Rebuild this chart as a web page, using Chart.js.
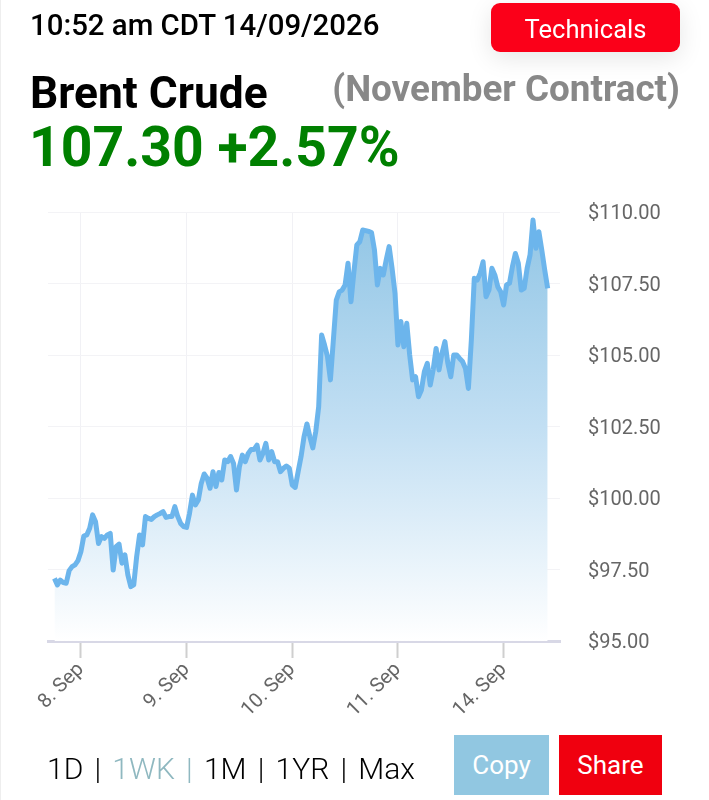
<!DOCTYPE html>
<html>
<head>
<meta charset="utf-8">
<title>Brent Crude</title>
<script src="https://cdn.jsdelivr.net/npm/chart.js@4/dist/chart.umd.js"></script>
<style>
    html, body { margin: 0; padding: 0; background: #fff; font-family: Roboto, sans-serif; }
    #page { position: relative; width: 709px; height: 800px; overflow: hidden; border-left: 1px solid #eee; box-sizing: border-box; }
    #page > div { position: absolute; white-space: nowrap; }
    canvas { position: absolute; left: -1px; top: 0; }
    .time { left: 29px; top: 8px; font-size: 29.4px; font-weight: 500; color: #000; }
    .btn-tech { left: 490px; top: 3px; width: 189px; height: 49px; line-height: 52px; border-radius: 9px; background: #fb0019; color: #fff; font-size: 25.5px; text-align: center; box-shadow: 0 6px 24px rgba(0,0,0,0.10); }
    .name { left: 29px; top: 67px; font-size: 44.3px; font-weight: 700; color: #000; }
    .contract { right: 29px; top: 67px; font-size: 36.8px; font-weight: 700; color: #888; }
    .price { left: 28px; top: 115px; font-size: 55.3px; font-weight: 700; color: #008000; }
    .range { left: 46px; top: 751px; font-size: 30px; font-weight: 300; color: #000; word-spacing: 3.9px; }
    .range span { color: #8fb8c0; }
    .btn { top: 735px; height: 60px; line-height: 60px; color: #fff; font-size: 26px; text-align: center; }
    .copy { left: 453px; width: 95px; background: #91c7e1; }
    .share { left: 558px; width: 103px; background: #f0000f; }
</style>
</head>
<body>
<div id="page">
    <canvas id="brentChart" width="709" height="800"></canvas>
    <div class="time">10:52 am CDT 14/09/2026</div>
    <div class="btn-tech">Technicals</div>
    <div class="name">Brent Crude</div>
    <div class="contract">(November Contract)</div>
    <div class="price">107.30 +2.57%</div>
    <div class="range">1D | <span>1WK |</span> 1M | 1YR | Max</div>
    <div class="btn copy">Copy</div>
    <div class="btn share">Share</div>
</div>
<script>
// Ціна (крок однаковий, 36 точок на торгову сесію)
const prices = [
    97.19, 96.96, 97.13, 97.04, 97.02, 97.46, 97.60, 97.66, 97.81, 98.12,
    98.67, 98.71, 98.94, 99.41, 99.17, 98.41, 98.65, 98.59, 98.71, 98.76,
    97.48, 98.30, 98.39, 97.72, 98.01, 97.31, 96.90, 96.96, 97.95, 98.71,
    98.36, 99.35, 99.29, 99.25, 99.35, 99.41, 99.46, 99.52, 99.32, 99.35,
    99.35, 99.70, 99.35, 99.11, 99.00, 98.97, 99.46, 100.10, 99.76, 99.93,
    100.51, 100.84, 100.69, 100.34, 100.92, 100.40, 100.89, 100.63, 101.33, 101.27,
    101.45, 101.21, 100.28, 101.10, 101.50, 101.27, 101.56, 101.70, 101.70, 101.85,
    101.33, 101.56, 101.91, 101.33, 101.62, 101.27, 101.27, 100.92, 101.04, 101.12,
    101.04, 100.45, 100.37, 100.92, 101.45, 102.14, 102.59, 102.14, 101.75, 102.32,
    103.19, 105.70, 105.35, 104.94, 104.13, 105.52, 106.92, 107.21, 107.27, 107.45,
    108.21, 106.86, 107.91, 108.85, 108.96, 109.37, 109.35, 109.32, 109.28, 108.67,
    107.45, 108.03, 107.80, 108.32, 108.79, 108.03, 107.16, 105.35, 106.17, 105.29,
    106.11, 105.00, 104.13, 104.24, 103.54, 103.78, 104.42, 104.71, 103.95, 104.48,
    105.23, 104.48, 105.06, 105.47, 104.71, 104.24, 105.00, 105.00, 104.88, 104.77,
    104.53, 103.83, 105.52, 107.68, 107.62, 107.86, 108.26, 107.04, 107.27, 108.03,
    107.80, 107.39, 107.21, 106.75, 107.45, 107.51, 108.09, 108.55, 108.21, 107.27,
    107.33, 108.03, 108.50, 109.72, 108.73, 109.31, 108.67, 107.97, 107.33
];

// Підписи осі X та їхні позиції в масиві цін
const dayLabels = ['8. Sep', '9. Sep', '10. Sep', '11. Sep', '14. Sep'];
const dayIndexes = [9, 45, 81, 117, 153];

// Поділки осі Y
const priceTicks = [95, 97.5, 100, 102.5, 105, 107.5, 110];

// Підписи осі Y трохи нижче за центр поділки
const nudgePriceLabels = {
    id: 'nudgePriceLabels',
    afterLayout(chart) {
        chart.scales.y.getLabelItems().forEach(item => { item.textOffset += 2; });
    }
};

new Chart(document.getElementById('brentChart'), {
    type: 'line',
    plugins: [nudgePriceLabels],
    data: {
        datasets: [{
            data: prices.map((p, i) => ({ x: i, y: p })),
            borderColor: '#6cb5ec',
            borderWidth: 5,
            borderJoinStyle: 'round',
            pointRadius: 0,
            tension: 0,
            fill: 'start',
            backgroundColor: function (ctx) {
                const area = ctx.chart.chartArea;
                if (!area) return 'rgba(144, 198, 232, 0.9)';
                const g = ctx.chart.ctx.createLinearGradient(0, area.top, 0, area.bottom);
                g.addColorStop(0, '#90c5e5');
                g.addColorStop(0.5, '#c2dff3');
                g.addColorStop(1, '#ffffff');
                return g;
            }
        }]
    },
    options: {
        responsive: false,
        animation: false,
        layout: { padding: { left: 48, top: 212 } },
        plugins: { legend: { display: false }, tooltip: { enabled: false } },
        scales: {
            x: {
                type: 'linear',
                min: -2.2,
                max: 172.2,
                afterBuildTicks: scale => { scale.ticks = dayIndexes.map(v => ({ value: v })); },
                afterFit: scale => { scale.height = 159; },
                grid: { color: '#f1f1f5', lineWidth: 1, tickColor: '#cfcfcf', tickWidth: 2, tickLength: 17 },
                border: { color: '#d8d8e6', width: 3 },
                ticks: {
                    autoSkip: false,
                    minRotation: 45,
                    maxRotation: 45,
                    padding: 0,
                    color: '#666666',
                    font: { family: 'Roboto', size: 20 },
                    callback: value => dayLabels[dayIndexes.indexOf(value)]
                }
            },
            y: {
                position: 'right',
                min: 95,
                max: 110,
                afterBuildTicks: scale => { scale.ticks = priceTicks.map(v => ({ value: v })); },
                afterFit: scale => { scale.width = 149; },
                grid: { color: '#f3f3f6', lineWidth: 1, drawTicks: false },
                border: { display: false },
                ticks: {
                    padding: 28,
                    color: '#666666',
                    font: { family: 'Roboto', size: 20 },
                    callback: value => '$' + value.toFixed(2)
                }
            }
        }
    }
});
</script>
</body>
</html>
